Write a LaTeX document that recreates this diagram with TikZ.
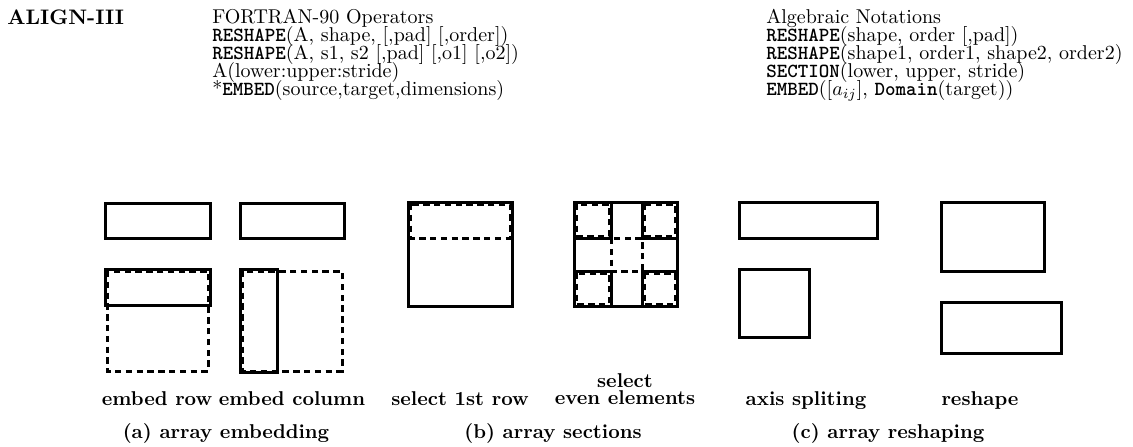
\documentclass[tikz,border=0pt]{standalone}
\newcommand{\kw}[1]{{\ttfamily\bfseries #1}}
\begin{document}
\begin{tikzpicture}[x=0.5pt,y=-0.5pt,
		box/.style={line width=1.5pt},
		ghost/.style={line width=1.5pt, dash pattern=on 3.2pt off 2.2pt},
		head/.style={anchor=base west, inner sep=0pt, align=left,
			font={\fontsize{10}{8.9}\selectfont\lineskiplimit=-10pt}},
		lbl/.style={anchor=base, inner sep=0pt, align=center,
			font={\bfseries\fontsize{10}{8.2}\selectfont\lineskiplimit=-10pt}}]
		\useasboundingbox (0,0) rectangle (1133,446);
		% header, anchored at the baseline of the last line
		\node[head, font=\bfseries\fontsize{10.5}{12}\selectfont] (title) at (7,24) {ALIGN-III};
		\node[head] (fortran) at (212,95) {FORTRAN-90 Operators\\
			\kw{RESHAPE}(A, shape, [,pad] [,order])\\
			\kw{RESHAPE}(A, s1, s2 [,pad] [,o1] [,o2])\\
			A(lower:upper:stride)\\
			*\kw{EMBED}(source,target,dimensions)};
		\node[head] (algebra) at (766,95) {Algebraic Notations\\
			\kw{RESHAPE}(shape, order [,pad])\\
			\kw{RESHAPE}(shape1, order1, shape2, order2)\\
			\kw{SECTION}(lower, upper, stride)\\
			\kw{EMBED}([$a_{ij}$], \kw{Domain}(target))};
		% (a) embed row
		\draw[box] (105,203) rectangle (210,238);
		\draw[box] (105,269) rectangle (210,305);
		\draw[ghost] (107,271) rectangle (208,371);
		% (a) embed column
		\draw[box] (240,203) rectangle (344,238);
		\draw[box] (240,269) rectangle (277,372);
		\draw[ghost] (242,271) rectangle (342,371);
		% (b) select 1st row
		\draw[box] (408,202) rectangle (512,306);
		\draw[ghost] (410,204) rectangle (510,238);
		% (b) select even elements
		\draw[box] (574,202) rectangle (677,306);
		\draw[box] (611,202) -- (611,238) -- (574,238);
		\draw[box] (642,202) -- (642,238) -- (677,238);
		\draw[box] (574,271) -- (611,271) -- (611,306);
		\draw[box] (677,271) -- (642,271) -- (642,306);
		\draw[ghost] (611,238) rectangle (642,271);
		\draw[ghost] (576,204) rectangle (609,236);
		\draw[ghost] (644,204) rectangle (675,236);
		\draw[ghost] (576,273) rectangle (609,304);
		\draw[ghost] (644,273) rectangle (675,304);
		% (c) axis spliting
		\draw[box] (739,202) rectangle (877,238);
		\draw[box] (739,269) rectangle (809,337);
		% (c) reshape
		\draw[box] (941,202) rectangle (1044,271);
		\draw[box] (941,302) rectangle (1061,353);
		% labels
		\node[lbl] (erow) at (157,405) {embed row};
		\node[lbl] (ecol) at (292,405) {embed column};
		\node[lbl] (srow) at (460,405) {select 1st row};
		\node[lbl] (seven) at (625,404) {select\\even elements};
		\node[lbl] (split) at (806,405) {axis spliting};
		\node[lbl] (resh) at (980,405) {reshape};
		% captions
		\node[lbl] (capa) at (226,438) {(a) array embedding};
		\node[lbl] (capb) at (553,438) {(b) array sections};
		\node[lbl] (capc) at (888,438) {(c) array reshaping};
	\end{tikzpicture}
\end{document}
